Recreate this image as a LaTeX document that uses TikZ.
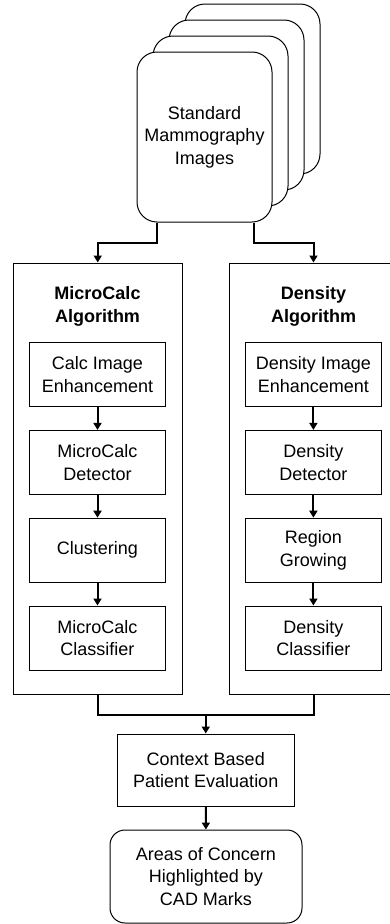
\documentclass[tikz,border=0pt]{standalone}
\usepackage{fontspec}
\setmainfont{Liberation Sans}
\usetikzlibrary{arrows.meta}
\begin{document}
\begin{tikzpicture}[x=1pt,y=1pt,
  every node/.style={font=\fontsize{18}{22.5}\selectfont, align=center, inner sep=0pt},
  card/.style={draw, line width=1pt, fill=white, rounded corners=20pt, minimum width=135pt, minimum height=170pt},
  algbox/.style={draw, line width=1pt, minimum width=169pt, minimum height=431pt},
  stepbox/.style={draw, line width=1pt, fill=white, minimum width=136pt, minimum height=64pt},
  conn/.style={line width=2pt, -{Triangle[length=7pt,width=8pt]}},
  plain/.style={line width=2pt}
]
\useasboundingbox (0,0) rectangle (389,-924);
% stacked image cards
\node[card] (c4) at (252.5,-89) {};
\node[card] (c3) at (236.5,-105) {};
\node[card] (c2) at (220.5,-121) {};
\node[card] (front) at (204.5,-137) {Standard\\Mammography\\Images};
% algorithm boxes
\node[algbox] (mc) at (97.75,-478.5) {};
\node[algbox] (dn) at (313.5,-478.5) {};
\node[font=\fontsize{18}{22.5}\selectfont\bfseries] (mct) at (97.5,-306.5) {MicroCalc\\Algorithm};
\node[font=\fontsize{18}{22.5}\selectfont\bfseries] (dnt) at (313.5,-306.5) {Density\\Algorithm};
% MicroCalc steps
\node[stepbox] (a1) at (97.5,-374.4) {Calc Image\\Enhancement};
\node[stepbox] (a2) at (97.5,-462.4) {MicroCalc\\Detector};
\node[stepbox] (a3) at (97.5,-550.2) {Clustering};
\node[stepbox] (a4) at (97.5,-638) {MicroCalc\\Classifier};
% Density steps
\node[stepbox] (b1) at (313.4,-374.4) {Density Image\\Enhancement};
\node[stepbox] (b2) at (313.4,-462.4) {Density\\Detector};
\node[stepbox] (b3) at (313.4,-550.2) {Region\\Growing};
\node[stepbox] (b4) at (313.4,-638) {Density\\Classifier};
% bottom
\node[draw, line width=1pt, minimum width=176.5pt, minimum height=72pt] (ctx) at (205.75,-770) {Context Based\\Patient Evaluation};
\node[draw, line width=1pt, rounded corners=15pt, minimum width=192pt, minimum height=93pt] (out) at (206,-876.5) {Areas of Concern\\Highlighted by\\CAD Marks};
% connectors
\draw[conn] ([xshift=-47.5pt]front.south) -- ++(0,-20) -| (mc.north);
\draw[conn] ([xshift=49.5pt]front.south) -- ++(0,-20) -| (dn.north);
\foreach \u/\v in {a1/a2,a2/a3,a3/a4,b1/b2,b2/b3,b3/b4}
  \draw[conn] (\u) -- (\v);
\draw[plain] (mc.south) -- ++(0,-20) -| (dn.south);
\coordinate (j) at (205.75,-714);
\draw[conn] (j) -- (ctx.north);
\draw[conn] (ctx) -- (out);
\end{tikzpicture}
\end{document}
